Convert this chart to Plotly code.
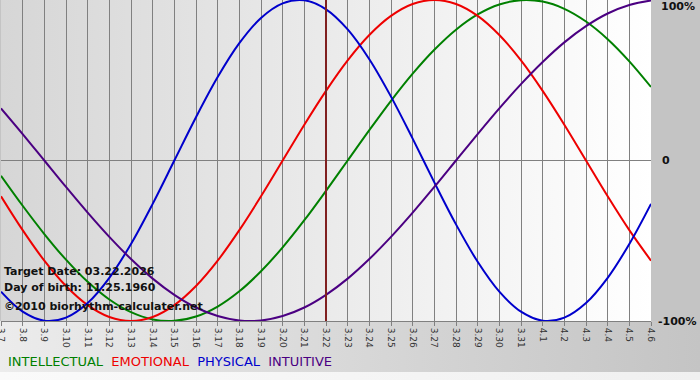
import base64
import plotly.graph_objects as go

# Days shown (month.day)
dates = ["3.7", "3.8", "3.9", "3.10", "3.11", "3.12", "3.13", "3.14", "3.15", "3.16",
         "3.17", "3.18", "3.19", "3.20", "3.21", "3.22", "3.23", "3.24", "3.25", "3.26",
         "3.27", "3.28", "3.29", "3.30", "3.31", "4.1", "4.2", "4.3", "4.4", "4.5", "4.6"]

intellectual = [-0.095, -0.282, -0.458, -0.618, -0.756, -0.866, -0.945, -0.990, -0.999, -0.972,
                -0.910, -0.815, -0.690, -0.541, -0.372, -0.189, 0.000, 0.189, 0.372, 0.541,
                0.690, 0.815, 0.910, 0.972, 0.999, 0.990, 0.945, 0.866, 0.756, 0.618, 0.458]

emotional = [-0.223, -0.434, -0.624, -0.782, -0.901, -0.975, -1.000, -0.975, -0.901, -0.782,
             -0.624, -0.434, -0.223, 0.000, 0.223, 0.434, 0.624, 0.782, 0.901, 0.975,
             1.000, 0.975, 0.901, 0.782, 0.624, 0.434, 0.223, 0.000, -0.223, -0.434, -0.624]

physical = [-0.817, -0.942, -0.998, -0.979, -0.888, -0.731, -0.520, -0.270, 0.000, 0.270,
            0.520, 0.731, 0.888, 0.979, 0.998, 0.942, 0.817, 0.631, 0.398, 0.136,
            -0.136, -0.398, -0.631, -0.817, -0.942, -0.998, -0.979, -0.888, -0.731, -0.520, -0.270]

intuitive = [0.325, 0.165, 0.000, -0.165, -0.325, -0.476, -0.614, -0.736, -0.837, -0.916,
             -0.969, -0.997, -0.997, -0.969, -0.916, -0.837, -0.736, -0.614, -0.476, -0.325,
             -0.165, 0.000, 0.165, 0.325, 0.476, 0.614, 0.736, 0.837, 0.916, 0.969, 0.997]

target_date = "3.22"
series_names = ["INTELLECTUAL", "EMOTIONAL", "PHYSICAL", "INTUITIVE"]
series_colors = ["#008000", "#ee0000", "#0000cc", "#4b0082"]

FONT = "Verdana, DejaVu Sans, sans-serif"
W, H = 700, 380
ML, MR, MT, MB = 1, 49, 0, 59
PH = H - MT - MB  # plot height in px
PW = W - ML - MR

def svg_grad(c1, c2, w=100, h=100):
    svg = (f'<svg xmlns="http://www.w3.org/2000/svg" width="{w}" height="{h}" preserveAspectRatio="none">'
           f'<defs><linearGradient id="g" x1="0" y1="0" x2="1" y2="0">'
           f'<stop offset="0" stop-color="{c1}"/><stop offset="1" stop-color="{c2}"/>'
           f'</linearGradient></defs><rect width="{w}" height="{h}" fill="url(#g)"/></svg>')
    return "data:image/svg+xml;base64," + base64.b64encode(svg.encode()).decode()

xs = list(range(len(dates)))
fig = go.Figure()
for name, vals, col in zip(series_names, [intellectual, emotional, physical, intuitive], series_colors):
    fig.add_trace(go.Scatter(x=xs, y=vals, mode="lines", name=name,
                             line=dict(color=col, width=2, shape="spline", smoothing=1.0),
                             showlegend=False, hoverinfo="skip", cliponaxis=False))

ti = dates.index(target_date)
fig.add_shape(type="line", x0=ti, x1=ti, y0=-1, y1=1, xref="x", yref="y",
              line=dict(color="#802020", width=2), layer="above")

def py(px):
    return (PH - px) / PH

images = [
    dict(source=svg_grad("#d6d6d6", "#ffffff"), xref="paper", yref="paper",
         x=0, y=1, sizex=1, sizey=1, sizing="stretch", layer="below"),
    dict(source=svg_grad("#ececec", "#c4c4c4"), xref="paper", yref="paper",
         x=-ML / PW, y=0, sizex=W / PW, sizey=(372 - PH) / PH,
         sizing="stretch", layer="below"),
    dict(source=svg_grad("#fafafa", "#f0f0f0"), xref="paper", yref="paper",
         x=-ML / PW, y=py(372), sizex=W / PW, sizey=(H - 372) / PH,
         sizing="stretch", layer="below"),
]

anns = []
for t, yy in [("<b>Target Date: 03.22.2026</b>", 271), ("<b>Day of birth: 11.25.1960</b>", 287),
              ("<b>©2010 biorhythm-calculater.net</b>", 306)]:
    anns.append(dict(text=t, x=0, y=py(yy), xref="paper", yref="paper",
                     xanchor="left", yanchor="middle", xshift=1, showarrow=False,
                     font=dict(family=FONT, size=11, color="#111111")))
for t, yy, xs_ in [("<b>100%</b>", 6, 8), ("<b>0</b>", 161, 9), ("<b>-100%</b>", 321, 5)]:
    anns.append(dict(text=t, x=1, y=py(yy), xref="paper", yref="paper", xanchor="left",
                     yanchor="middle", xshift=xs_, showarrow=False,
                     font=dict(family=FONT, size=11, color="#111111")))
legend_text = "&nbsp;&nbsp;".join(f'<span style="color:{c}">{n}</span>'
                                  for n, c in zip(series_names, series_colors))
anns.append(dict(text=legend_text, x=0, y=py(362), xref="paper", yref="paper",
                 xanchor="left", yanchor="middle", xshift=5, showarrow=False,
                 font=dict(family=FONT, size=13)))

fig.update_layout(
    width=W, height=H, margin=dict(l=ML, r=MR, t=MT, b=MB, autoexpand=False),
    paper_bgcolor="#c4c4c4", plot_bgcolor="rgba(0,0,0,0)",
    images=images, annotations=anns,
    xaxis=dict(range=[0, len(dates) - 1], tickvals=xs, ticktext=dates, tickangle=90,
               automargin=False, ticklabeloverflow="allow",
               showgrid=True, gridcolor="#808080", gridwidth=1, zeroline=False,
               ticks="outside", ticklen=4, tickcolor="#808080",
               tickfont=dict(family=FONT, size=9, color="#333333"),
               showline=True, linecolor="#808080", linewidth=1),
    yaxis=dict(range=[-1, 1], tickvals=[-1, 0, 1], showticklabels=False, automargin=False,
               showgrid=True, gridcolor="#808080", gridwidth=1, zeroline=False,
               showline=False),
)
fig.write_html("out.html", config={"displayModeBar": False, "staticPlot": True})

# remove the browser's default page margin so the figure sits at the window's corner
with open("out.html", "r", encoding="utf-8") as f:
    html = f.read()
html = html.replace("<head>", "<head><style>html,body{margin:0;padding:0;overflow:hidden;}</style>", 1)
with open("out.html", "w", encoding="utf-8") as f:
    f.write(html)
